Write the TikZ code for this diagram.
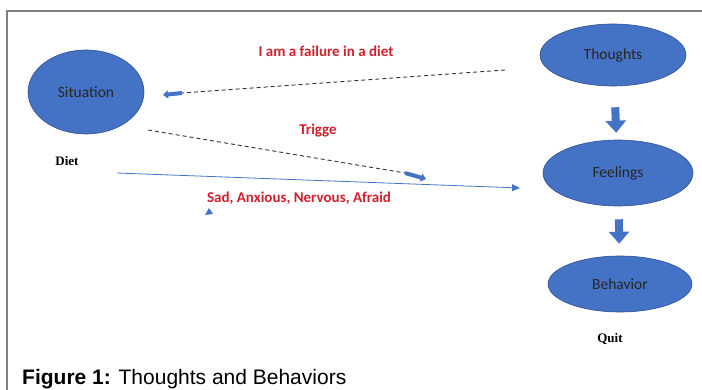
\documentclass[tikz,border=0pt]{standalone}
\usepackage{fontspec}
\setmainfont{Carlito}
\newfontfamily\capfont{Liberation Sans}
\newfontfamily\notefont{Liberation Serif}
\usetikzlibrary{arrows.meta,shapes.geometric}
\definecolor{boxblue}{HTML}{4472C4}
\definecolor{edgeblue}{HTML}{2F528F}
\definecolor{labelred}{HTML}{D0202E}
\definecolor{framegray}{HTML}{808080}

\begin{document}
\begin{tikzpicture}[
    x=1pt, y=-1pt,
    bubble/.style={
        ellipse, draw=edgeblue, fill=boxblue, line width=0.6pt,
        inner sep=0pt, text=black!85,
        font=\fontsize{15.5}{18}\selectfont
    },
    dashline/.style={black!80, line width=0.9pt, dash pattern=on 4pt off 3pt},
    fatarrow/.style={boxblue, line width=8pt, -{Triangle[width=20pt,length=12pt]}},
    smallfat/.style={boxblue, line width=4pt, -{Triangle[width=8pt,length=5pt]}},
    thinline/.style={boxblue, line width=0.8pt, -{Triangle[width=7pt,length=8pt]}},
    redlabel/.style={text=labelred, font=\bfseries\fontsize{15}{18}\selectfont},
    notelabel/.style={font=\notefont\bfseries\fontsize{13}{15}\selectfont},
]
\useasboundingbox (0,0) rectangle (702,390);

% frame
\draw[framegray, line width=1.2pt] (7,390) -- (7,11) -- (702,11);

\node [bubble, minimum width=116pt, minimum height=84pt] (situation) at (86,92)  {Situation};
\node [bubble, minimum width=146pt, minimum height=62pt] (thoughts)  at (613,55)  {Thoughts};
\node [bubble, minimum width=150pt, minimum height=66pt] (feelings)  at (618,173) {Feelings};
\node [bubble, minimum width=144pt, minimum height=56pt] (behavior)  at (620,284) {Behavior};

\node [notelabel] (diet) at (67,161)  {Diet};
\node [notelabel] (quit) at (610,339) {Quit};

\node [redlabel] (failure) at (326,51)  {I am a failure in a diet};
\node [redlabel] (trigge)  at (318,131) {Trigge};
\node [redlabel] (sad)     at (299,198) {Sad, Anxious, Nervous, Afraid};

\node [anchor=base west, inner sep=0pt, font=\capfont\fontsize{21}{25}\selectfont] (caption) at (22,384)
    {\textbf{Figure 1:} Thoughts and Behaviors};

% end points of the loose connectors
\coordinate (t1) at (505,70);
\coordinate (s1) at (182,93);
\coordinate (s2) at (163,95);
\coordinate (s3) at (148,130);
\coordinate (f1) at (405,173);
\coordinate (f2) at (426,179);
\coordinate (d1) at (117,173);
\coordinate (f3) at (520,188);

\draw[fatarrow, shorten <=21pt, shorten >=7pt] (thoughts) -- (feelings);
\draw[fatarrow, shorten <=13pt, shorten >=12pt] (feelings) -- (behavior);

\draw[dashline] (t1) -- (s1);
\draw[smallfat] (s1) -- (s2);
\draw[dashline] (s3) -- (f1);
\draw[smallfat] (f1) -- (f2);
\draw[thinline] (d1) -- (f3);

\fill[boxblue] (205,215) -- (213,214) -- (209,208) -- cycle;

\end{tikzpicture}
\end{document}
